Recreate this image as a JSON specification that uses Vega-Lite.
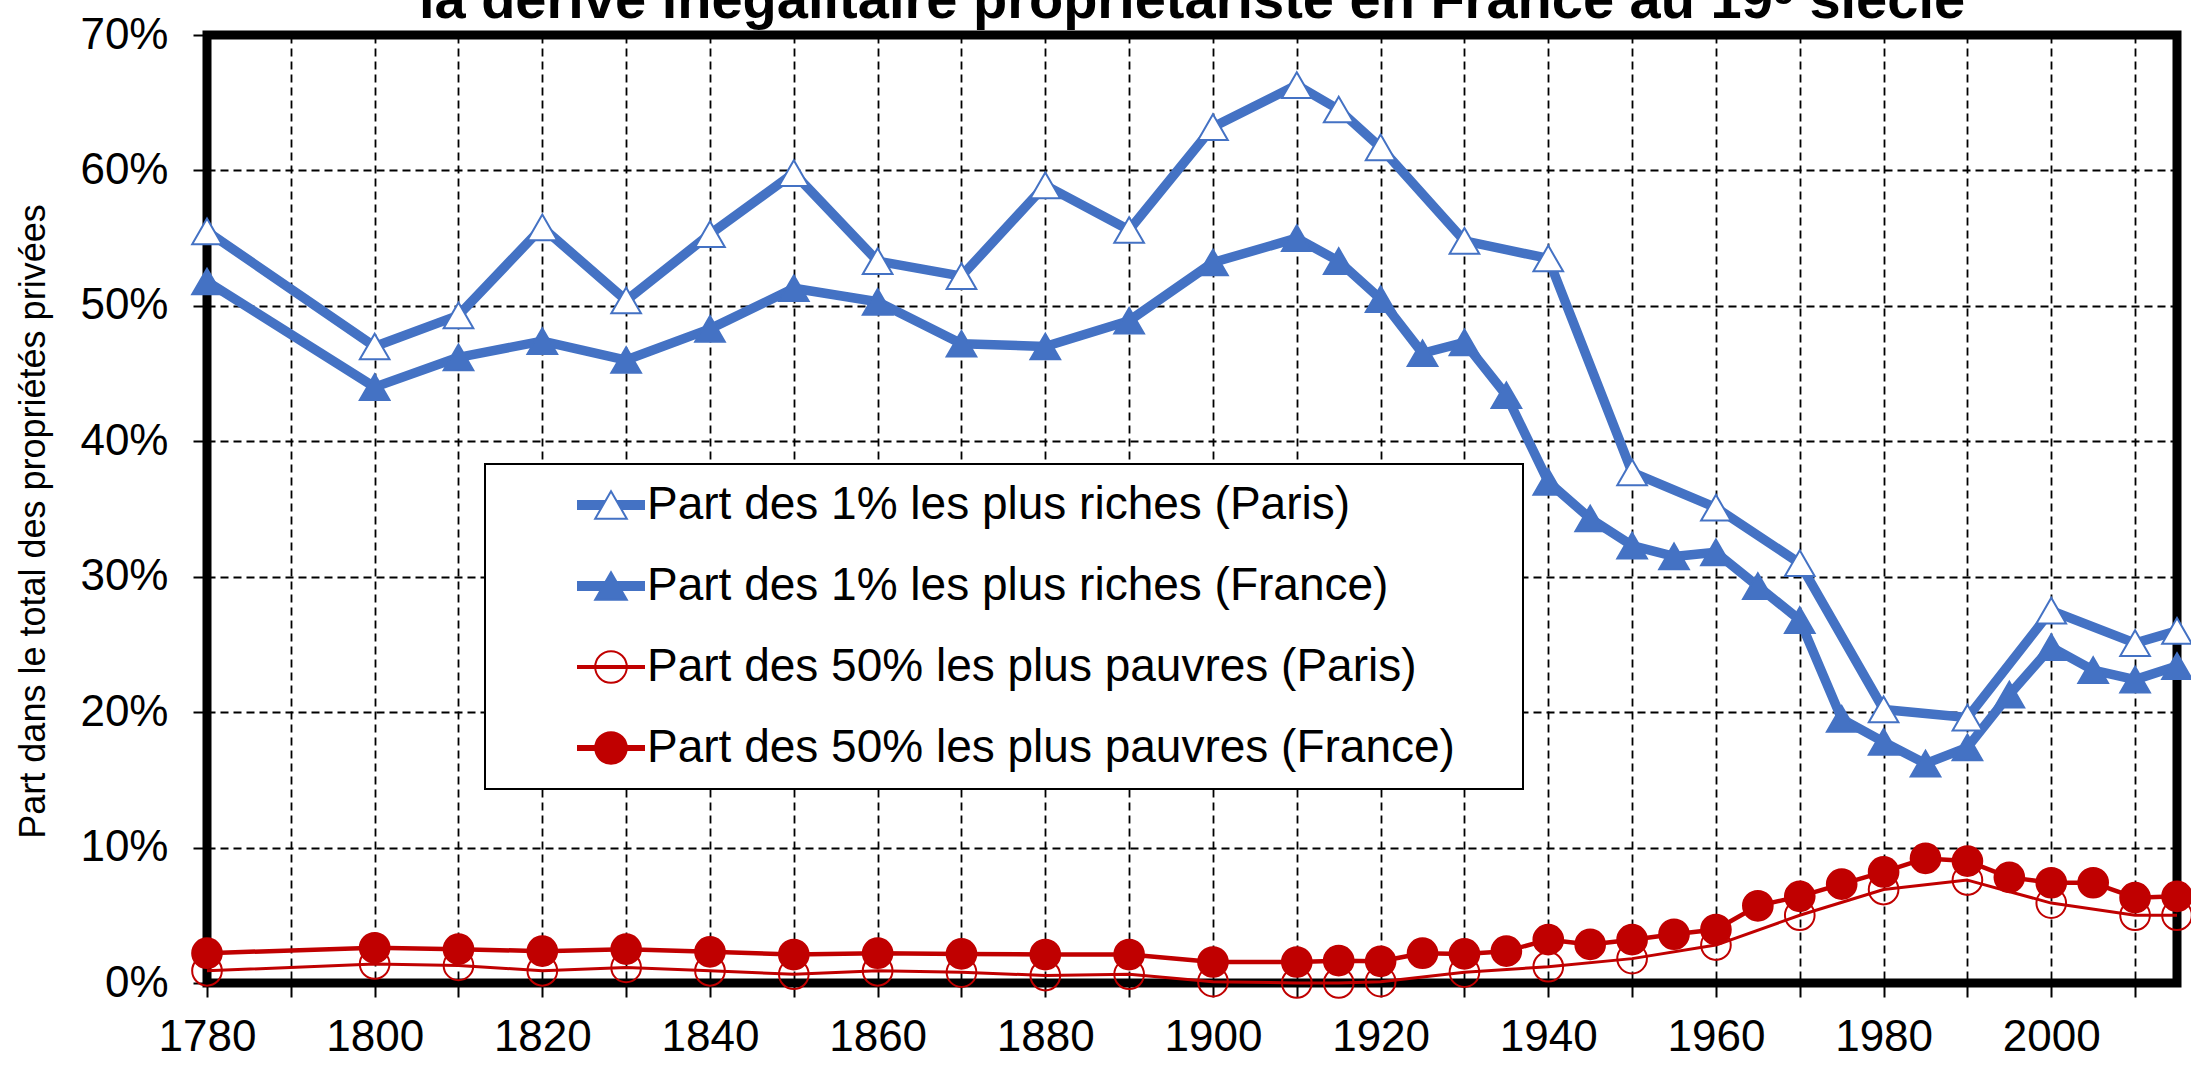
{
  "$schema": "https://vega.github.io/schema/vega-lite/v6.json",
  "width": 1970,
  "height": 948,
  "autosize": {"type": "none"},
  "padding": {"left": 207, "top": 35, "right": 14, "bottom": 82},
  "background": "white",
  "title": {
    "text": "la dérive inégalitaire propriétariste en France au 19ᵉ siècle",
    "font": "Liberation Sans",
    "fontSize": 56,
    "fontWeight": "bold",
    "color": "black",
    "anchor": "middle",
    "frame": "group",
    "baseline": "alphabetic",
    "offset": 0,
    "dy": 61
  },
  "config": {
    "font": "Liberation Sans",
    "view": {"stroke": "black", "strokeWidth": 9},
    "axis": {
      "grid": true,
      "gridColor": "black",
      "gridDash": [8, 5],
      "gridWidth": 1.8,
      "gridOpacity": 1,
      "domain": false,
      "ticks": true,
      "tickColor": "black",
      "tickSize": 14,
      "tickWidth": 2,
      "labelFont": "Liberation Sans",
      "labelFontSize": 44,
      "labelColor": "black",
      "labelOverlap": false,
      "labelFlush": false
    }
  },
  "data": {
    "values": [
      {"annee": 1780, "serie": "Part des 1% les plus riches (Paris)", "part": 55.5},
      {"annee": 1800, "serie": "Part des 1% les plus riches (Paris)", "part": 47.0},
      {"annee": 1810, "serie": "Part des 1% les plus riches (Paris)", "part": 49.3},
      {"annee": 1820, "serie": "Part des 1% les plus riches (Paris)", "part": 55.8},
      {"annee": 1830, "serie": "Part des 1% les plus riches (Paris)", "part": 50.4},
      {"annee": 1840, "serie": "Part des 1% les plus riches (Paris)", "part": 55.3},
      {"annee": 1850, "serie": "Part des 1% les plus riches (Paris)", "part": 59.8},
      {"annee": 1860, "serie": "Part des 1% les plus riches (Paris)", "part": 53.3},
      {"annee": 1870, "serie": "Part des 1% les plus riches (Paris)", "part": 52.2},
      {"annee": 1880, "serie": "Part des 1% les plus riches (Paris)", "part": 58.9},
      {"annee": 1890, "serie": "Part des 1% les plus riches (Paris)", "part": 55.6},
      {"annee": 1900, "serie": "Part des 1% les plus riches (Paris)", "part": 63.2},
      {"annee": 1910, "serie": "Part des 1% les plus riches (Paris)", "part": 66.3},
      {"annee": 1915, "serie": "Part des 1% les plus riches (Paris)", "part": 64.5},
      {"annee": 1920, "serie": "Part des 1% les plus riches (Paris)", "part": 61.7},
      {"annee": 1930, "serie": "Part des 1% les plus riches (Paris)", "part": 54.8},
      {"annee": 1940, "serie": "Part des 1% les plus riches (Paris)", "part": 53.5},
      {"annee": 1950, "serie": "Part des 1% les plus riches (Paris)", "part": 37.7},
      {"annee": 1960, "serie": "Part des 1% les plus riches (Paris)", "part": 35.1},
      {"annee": 1970, "serie": "Part des 1% les plus riches (Paris)", "part": 31.0},
      {"annee": 1980, "serie": "Part des 1% les plus riches (Paris)", "part": 20.2},
      {"annee": 1990, "serie": "Part des 1% les plus riches (Paris)", "part": 19.6},
      {"annee": 2000, "serie": "Part des 1% les plus riches (Paris)", "part": 27.5},
      {"annee": 2010, "serie": "Part des 1% les plus riches (Paris)", "part": 25.1},
      {"annee": 2015, "serie": "Part des 1% les plus riches (Paris)", "part": 26.0},

      {"annee": 1780, "serie": "Part des 1% les plus riches (France)", "part": 51.8},
      {"annee": 1800, "serie": "Part des 1% les plus riches (France)", "part": 44.0},
      {"annee": 1810, "serie": "Part des 1% les plus riches (France)", "part": 46.2},
      {"annee": 1820, "serie": "Part des 1% les plus riches (France)", "part": 47.4},
      {"annee": 1830, "serie": "Part des 1% les plus riches (France)", "part": 46.0},
      {"annee": 1840, "serie": "Part des 1% les plus riches (France)", "part": 48.3},
      {"annee": 1850, "serie": "Part des 1% les plus riches (France)", "part": 51.3},
      {"annee": 1860, "serie": "Part des 1% les plus riches (France)", "part": 50.3},
      {"annee": 1870, "serie": "Part des 1% les plus riches (France)", "part": 47.2},
      {"annee": 1880, "serie": "Part des 1% les plus riches (France)", "part": 47.0},
      {"annee": 1890, "serie": "Part des 1% les plus riches (France)", "part": 48.9},
      {"annee": 1900, "serie": "Part des 1% les plus riches (France)", "part": 53.2},
      {"annee": 1910, "serie": "Part des 1% les plus riches (France)", "part": 55.0},
      {"annee": 1915, "serie": "Part des 1% les plus riches (France)", "part": 53.3},
      {"annee": 1920, "serie": "Part des 1% les plus riches (France)", "part": 50.5},
      {"annee": 1925, "serie": "Part des 1% les plus riches (France)", "part": 46.5},
      {"annee": 1930, "serie": "Part des 1% les plus riches (France)", "part": 47.3},
      {"annee": 1935, "serie": "Part des 1% les plus riches (France)", "part": 43.4},
      {"annee": 1940, "serie": "Part des 1% les plus riches (France)", "part": 37.0},
      {"annee": 1945, "serie": "Part des 1% les plus riches (France)", "part": 34.3},
      {"annee": 1950, "serie": "Part des 1% les plus riches (France)", "part": 32.3},
      {"annee": 1955, "serie": "Part des 1% les plus riches (France)", "part": 31.5},
      {"annee": 1960, "serie": "Part des 1% les plus riches (France)", "part": 31.8},
      {"annee": 1965, "serie": "Part des 1% les plus riches (France)", "part": 29.3},
      {"annee": 1970, "serie": "Part des 1% les plus riches (France)", "part": 26.8},
      {"annee": 1975, "serie": "Part des 1% les plus riches (France)", "part": 19.5},
      {"annee": 1980, "serie": "Part des 1% les plus riches (France)", "part": 17.8},
      {"annee": 1985, "serie": "Part des 1% les plus riches (France)", "part": 16.2},
      {"annee": 1990, "serie": "Part des 1% les plus riches (France)", "part": 17.4},
      {"annee": 1995, "serie": "Part des 1% les plus riches (France)", "part": 21.3},
      {"annee": 2000, "serie": "Part des 1% les plus riches (France)", "part": 24.8},
      {"annee": 2005, "serie": "Part des 1% les plus riches (France)", "part": 23.1},
      {"annee": 2010, "serie": "Part des 1% les plus riches (France)", "part": 22.4},
      {"annee": 2015, "serie": "Part des 1% les plus riches (France)", "part": 23.4},

      {"annee": 1780, "serie": "Part des 50% les plus pauvres (Paris)", "part": 0.9},
      {"annee": 1800, "serie": "Part des 50% les plus pauvres (Paris)", "part": 1.4},
      {"annee": 1810, "serie": "Part des 50% les plus pauvres (Paris)", "part": 1.3},
      {"annee": 1820, "serie": "Part des 50% les plus pauvres (Paris)", "part": 0.9},
      {"annee": 1830, "serie": "Part des 50% les plus pauvres (Paris)", "part": 1.15},
      {"annee": 1840, "serie": "Part des 50% les plus pauvres (Paris)", "part": 0.9},
      {"annee": 1850, "serie": "Part des 50% les plus pauvres (Paris)", "part": 0.65},
      {"annee": 1860, "serie": "Part des 50% les plus pauvres (Paris)", "part": 0.9},
      {"annee": 1870, "serie": "Part des 50% les plus pauvres (Paris)", "part": 0.8},
      {"annee": 1880, "serie": "Part des 50% les plus pauvres (Paris)", "part": 0.55},
      {"annee": 1890, "serie": "Part des 50% les plus pauvres (Paris)", "part": 0.65},
      {"annee": 1900, "serie": "Part des 50% les plus pauvres (Paris)", "part": 0.1},
      {"annee": 1910, "serie": "Part des 50% les plus pauvres (Paris)", "part": 0.0},
      {"annee": 1915, "serie": "Part des 50% les plus pauvres (Paris)", "part": 0.0},
      {"annee": 1920, "serie": "Part des 50% les plus pauvres (Paris)", "part": 0.1},
      {"annee": 1930, "serie": "Part des 50% les plus pauvres (Paris)", "part": 0.8},
      {"annee": 1940, "serie": "Part des 50% les plus pauvres (Paris)", "part": 1.2},
      {"annee": 1950, "serie": "Part des 50% les plus pauvres (Paris)", "part": 1.8},
      {"annee": 1960, "serie": "Part des 50% les plus pauvres (Paris)", "part": 2.8},
      {"annee": 1970, "serie": "Part des 50% les plus pauvres (Paris)", "part": 5.0},
      {"annee": 1980, "serie": "Part des 50% les plus pauvres (Paris)", "part": 6.9},
      {"annee": 1990, "serie": "Part des 50% les plus pauvres (Paris)", "part": 7.6},
      {"annee": 2000, "serie": "Part des 50% les plus pauvres (Paris)", "part": 5.9},
      {"annee": 2010, "serie": "Part des 50% les plus pauvres (Paris)", "part": 5.0},
      {"annee": 2015, "serie": "Part des 50% les plus pauvres (Paris)", "part": 5.0},

      {"annee": 1780, "serie": "Part des 50% les plus pauvres (France)", "part": 2.2},
      {"annee": 1800, "serie": "Part des 50% les plus pauvres (France)", "part": 2.6},
      {"annee": 1810, "serie": "Part des 50% les plus pauvres (France)", "part": 2.5},
      {"annee": 1820, "serie": "Part des 50% les plus pauvres (France)", "part": 2.35},
      {"annee": 1830, "serie": "Part des 50% les plus pauvres (France)", "part": 2.5},
      {"annee": 1840, "serie": "Part des 50% les plus pauvres (France)", "part": 2.3},
      {"annee": 1850, "serie": "Part des 50% les plus pauvres (France)", "part": 2.1},
      {"annee": 1860, "serie": "Part des 50% les plus pauvres (France)", "part": 2.2},
      {"annee": 1870, "serie": "Part des 50% les plus pauvres (France)", "part": 2.15},
      {"annee": 1880, "serie": "Part des 50% les plus pauvres (France)", "part": 2.1},
      {"annee": 1890, "serie": "Part des 50% les plus pauvres (France)", "part": 2.1},
      {"annee": 1900, "serie": "Part des 50% les plus pauvres (France)", "part": 1.55},
      {"annee": 1910, "serie": "Part des 50% les plus pauvres (France)", "part": 1.55},
      {"annee": 1915, "serie": "Part des 50% les plus pauvres (France)", "part": 1.65},
      {"annee": 1920, "serie": "Part des 50% les plus pauvres (France)", "part": 1.6},
      {"annee": 1925, "serie": "Part des 50% les plus pauvres (France)", "part": 2.2},
      {"annee": 1930, "serie": "Part des 50% les plus pauvres (France)", "part": 2.15},
      {"annee": 1935, "serie": "Part des 50% les plus pauvres (France)", "part": 2.35},
      {"annee": 1940, "serie": "Part des 50% les plus pauvres (France)", "part": 3.2},
      {"annee": 1945, "serie": "Part des 50% les plus pauvres (France)", "part": 2.85},
      {"annee": 1950, "serie": "Part des 50% les plus pauvres (France)", "part": 3.2},
      {"annee": 1955, "serie": "Part des 50% les plus pauvres (France)", "part": 3.6},
      {"annee": 1960, "serie": "Part des 50% les plus pauvres (France)", "part": 3.95},
      {"annee": 1965, "serie": "Part des 50% les plus pauvres (France)", "part": 5.7},
      {"annee": 1970, "serie": "Part des 50% les plus pauvres (France)", "part": 6.4},
      {"annee": 1975, "serie": "Part des 50% les plus pauvres (France)", "part": 7.3},
      {"annee": 1980, "serie": "Part des 50% les plus pauvres (France)", "part": 8.2},
      {"annee": 1985, "serie": "Part des 50% les plus pauvres (France)", "part": 9.2},
      {"annee": 1990, "serie": "Part des 50% les plus pauvres (France)", "part": 9.0},
      {"annee": 1995, "serie": "Part des 50% les plus pauvres (France)", "part": 7.8},
      {"annee": 2000, "serie": "Part des 50% les plus pauvres (France)", "part": 7.4},
      {"annee": 2005, "serie": "Part des 50% les plus pauvres (France)", "part": 7.4},
      {"annee": 2010, "serie": "Part des 50% les plus pauvres (France)", "part": 6.3},
      {"annee": 2015, "serie": "Part des 50% les plus pauvres (France)", "part": 6.4}
    ]
  },
  "encoding": {
    "x": {
      "field": "annee",
      "type": "quantitative",
      "scale": {"domain": [1780, 2015], "nice": false, "zero": false},
      "axis": {
        "title": null,
        "values": [1780, 1790, 1800, 1810, 1820, 1830, 1840, 1850, 1860, 1870, 1880, 1890, 1900, 1910, 1920, 1930, 1940, 1950, 1960, 1970, 1980, 1990, 2000, 2010],
        "format": "d",
        "labelExpr": "datum.value % 20 === 0 ? datum.label : ''",
        "labelPadding": 18
      }
    },
    "y": {
      "field": "part",
      "type": "quantitative",
      "scale": {"domain": [0, 70], "nice": false},
      "axis": {
        "title": "Part dans le total des propriétés privées",
        "values": [0, 10, 20, 30, 40, 50, 60, 70],
        "labelExpr": "datum.value + '%'",
        "labelPadding": 25,
        "titleFont": "Liberation Sans",
        "titleFontSize": 36,
        "titleFontWeight": "normal",
        "titleColor": "black",
        "titleX": -155,
        "titleY": 486
      }
    }
  },
  "layer": [
    {
      "mark": {"type": "line", "interpolate": "linear", "strokeJoin": "round"},
      "encoding": {
        "color": {
          "field": "serie",
          "type": "nominal",
          "sort": ["Part des 1% les plus riches (Paris)", "Part des 1% les plus riches (France)", "Part des 50% les plus pauvres (Paris)", "Part des 50% les plus pauvres (France)"],
          "scale": {"range": ["#4472C4", "#4472C4", "#C00000", "#C00000"]},
          "legend": {
            "orient": "none",
            "legendX": 278,
            "legendY": 429,
            "title": null,
            "symbolType": "stroke",
            "symbolSize": 4624,
            "symbolOffset": 87,
            "labelOffset": 65,
            "labelColor": "transparent",
            "labelFontSize": 46,
            "labelLimit": 2000,
            "clipHeight": 50,
            "rowPadding": 31,
            "padding": 16,
            "fillColor": "white",
            "strokeColor": "black",
            "encode": {
              "symbols": {"update": {"strokeWidth": {"signal": "indexof(datum.value || datum, '1%') >= 0 ? 10 : (indexof(datum.value || datum, 'France') >= 0 ? 6 : 4)"}}},
              "legend": {"update": {"strokeWidth": {"value": 2}}}
            }
          }
        },
        "strokeWidth": {
          "condition": [
            {"test": "indexof(datum.serie, '1%') >= 0", "value": 9.5},
            {"test": "indexof(datum.serie, '(France)') >= 0", "value": 4.5}
          ],
          "value": 3
        }
      }
    },
    {
      "mark": {"type": "point", "filled": false, "opacity": 1, "strokeWidth": 2, "size": 880},
      "encoding": {
        "shape": {
          "field": "serie",
          "type": "nominal",
          "scale": {
            "domain": ["Part des 1% les plus riches (Paris)", "Part des 1% les plus riches (France)", "Part des 50% les plus pauvres (Paris)", "Part des 50% les plus pauvres (France)"],
            "range": ["triangle-up", "triangle-up", "circle", "circle"]
          },
          "legend": {
            "orient": "none",
            "legendX": 278,
            "legendY": 429,
            "title": null,
            "symbolSize": 1000,
            "symbolStrokeWidth": 2,
            "symbolFillColor": "white",
            "symbolStrokeColor": "black",
            "symbolOpacity": 1,
            "symbolOffset": 87,
            "labelOffset": 13,
            "labelColor": "black",
            "labelFont": "Liberation Sans",
            "labelFontSize": 46,
            "labelLimit": 2000,
            "clipHeight": 50,
            "rowPadding": 31,
            "padding": 16
          }
        },
        "fill": {
          "field": "serie",
          "type": "nominal",
          "scale": {
            "domain": ["Part des 1% les plus riches (Paris)", "Part des 1% les plus riches (France)", "Part des 50% les plus pauvres (Paris)", "Part des 50% les plus pauvres (France)"],
            "range": ["white", "#4472C4", "transparent", "#C00000"]
          },
          "legend": {
            "orient": "none",
            "legendX": 278,
            "legendY": 429,
            "title": null,
            "symbolSize": 1000,
            "symbolStrokeWidth": 2,
            "symbolFillColor": "white",
            "symbolStrokeColor": "black",
            "symbolOpacity": 1,
            "symbolOffset": 87,
            "labelOffset": 13,
            "labelColor": "black",
            "labelFont": "Liberation Sans",
            "labelFontSize": 46,
            "labelLimit": 2000,
            "clipHeight": 50,
            "rowPadding": 31,
            "padding": 16
          }
        },
        "stroke": {
          "field": "serie",
          "type": "nominal",
          "scale": {
            "domain": ["Part des 1% les plus riches (Paris)", "Part des 1% les plus riches (France)", "Part des 50% les plus pauvres (Paris)", "Part des 50% les plus pauvres (France)"],
            "range": ["#4472C4", "#4472C4", "#C00000", "#C00000"]
          },
          "legend": {
            "orient": "none",
            "legendX": 278,
            "legendY": 429,
            "title": null,
            "symbolSize": 1000,
            "symbolStrokeWidth": 2,
            "symbolFillColor": "white",
            "symbolStrokeColor": "black",
            "symbolOpacity": 1,
            "symbolOffset": 87,
            "labelOffset": 13,
            "labelColor": "black",
            "labelFont": "Liberation Sans",
            "labelFontSize": 46,
            "labelLimit": 2000,
            "clipHeight": 50,
            "rowPadding": 31,
            "padding": 16
          }
        }
      }
    }
  ]
}
